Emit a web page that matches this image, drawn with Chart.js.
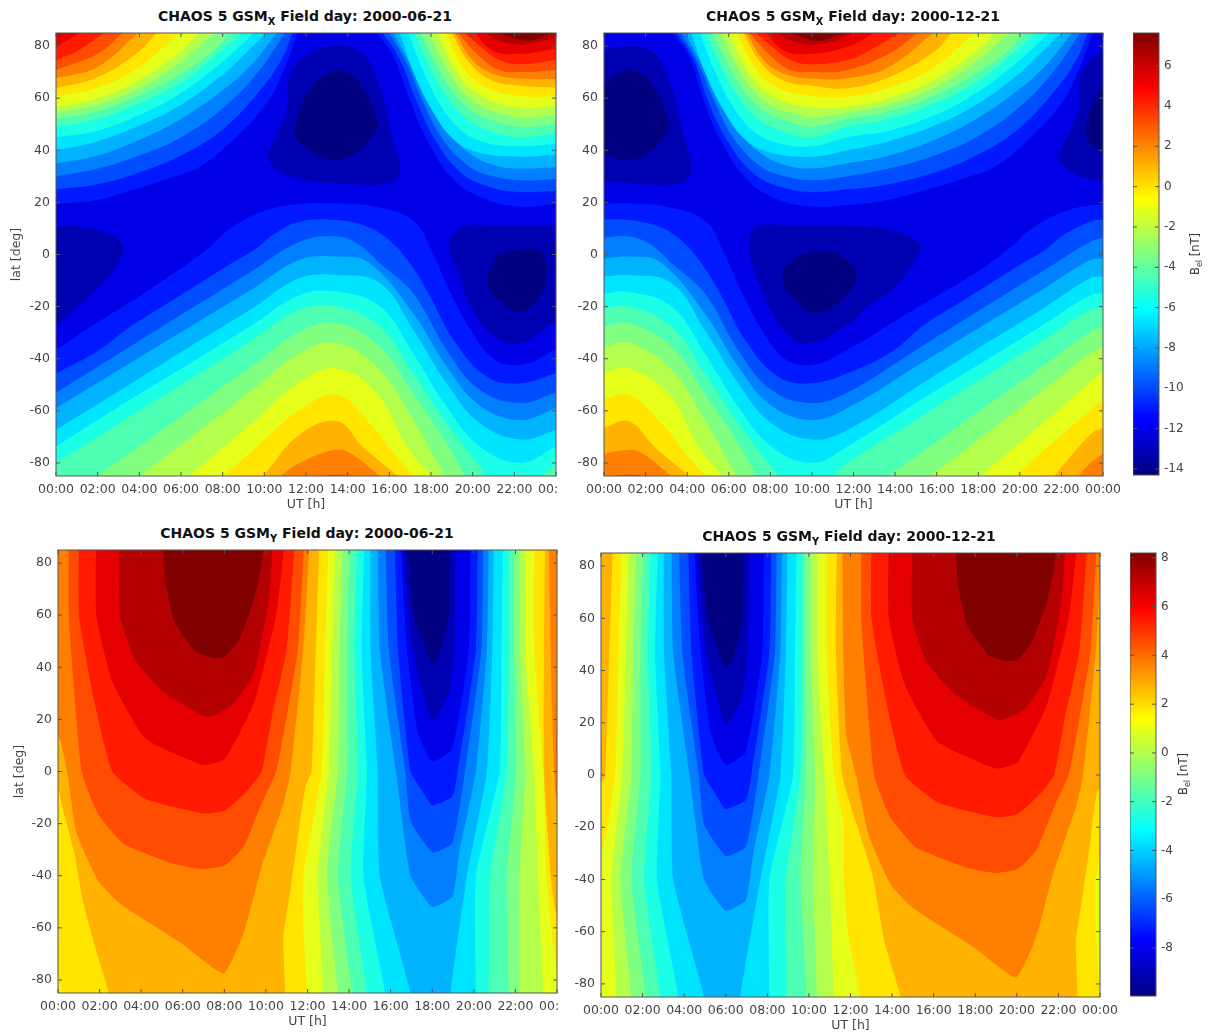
<!DOCTYPE html>
<html>
<head>
<meta charset="utf-8">
<script src="https://cdn.jsdelivr.net/npm/chart.js@4"></script>
<style>
body { margin: 0; background: #fff; width: 1210px; height: 1036px; overflow: hidden; position: relative; font-family: "DejaVu Sans"; }
.clip { position: absolute; overflow: hidden; }
.title { position: absolute; transform: translateX(-50%); font-size: 14px; font-weight: bold; color: #111; white-space: nowrap; }
.title sub, .unit sub { font-size: 70%; line-height: 0; }
.unit { position: absolute; transform: translate(-50%, -50%) rotate(-90deg); font-size: 11.5px; color: #333; white-space: nowrap; }
</style>
</head>
<body>
<script>
// tick labels
const utTicks = [0, 2, 4, 6, 8, 10, 12, 14, 16, 18, 20, 22, 24];
const utLabels = ['00:00', '02:00', '04:00', '06:00', '08:00', '10:00', '12:00', '14:00', '16:00', '18:00', '20:00', '22:00', '00:00'];
const latTicks = [-80, -60, -40, -20, 0, 20, 40, 60, 80];
const xBarTicks = [-14, -12, -10, -8, -6, -4, -2, 0, 2, 4, 6];
const yBarTicks = [-8, -6, -4, -2, 0, 2, 4, 6, 8];

// every entry is [contour band, [[UT, lat], ...]]
const xJunUpper = [
  [3, [[0,19.4],[2,21],[3.7,24.8],[5.3,29],[6.9,33.7],[8.5,44],[10.1,58],[11,72],[11.6,85]]],
  [3, [[15.4,85],[16.2,76],[17,59],[17.8,44],[19.1,28.6],[20.7,21],[22.3,18.4],[24,19.4]]],
  [4, [[0,25],[2,27],[4,31.5],[6,38],[8,48],[9.9,64],[10.9,76],[11.35,85]]],
  [4, [[15.7,85],[16.5,75],[17.3,59],[18.2,44],[19.5,31],[21,25.5],[22.3,24],[24,24.5]]],
  [5, [[0,30],[2,33],[4,38],[6,45],[8,56],[9.7,70],[11,85]]],
  [5, [[16,85],[16.8,74],[17.6,59],[18.5,45],[19.8,34],[21,30],[22.3,28.5],[24,29]]],
  [6, [[0,35],[2,38],[4,44],[6,52],[8,63],[9.4,73],[10.6,85]]],
  [6, [[16.2,85],[17,73],[17.8,60],[18.8,47],[20,38],[21.2,34],[22.3,33],[24,33.5]]],
  [7, [[0,40],[2,43.5],[4,49.5],[6,57.5],[8,69],[9,76.5],[10.1,85]]],
  [7, [[16.5,85],[17.15,70],[18,56],[19.1,44],[20.35,39],[22.3,37.5],[24,38.5]]],
  [8, [[0,45],[2,47.5],[4,53.5],[6,62],[8,74],[9.5,85]]],
  [8, [[16.9,85],[17.6,71],[18.4,58],[19.4,48],[20.6,43],[22.3,41.5],[24,42.5]]],
  [9, [[0,49],[2,52],[4,58],[6,66],[7.6,76],[8.9,85]]],
  [9, [[17.2,85],[18,71],[18.8,60],[19.8,51.5],[21,47],[22.3,45],[24,46.5]]],
  [10, [[0,52],[2,55],[4,61],[6,69.5],[7.5,78],[8.3,85]]],
  [10, [[17.5,85],[18.4,71],[19.2,61],[20.2,54],[21.2,51],[22.3,49],[24,50]]],
  [11, [[0,54.5],[2,57.5],[4,64],[6,74],[7.6,85]]],
  [11, [[17.9,85],[18.8,71],[19.6,62],[20.5,56.5],[21.5,54],[22.3,52.5],[24,53.5]]],
  [12, [[0,56.7],[2,60],[4,67],[6,78],[6.85,85]]],
  [12, [[18.3,85],[19.4,68],[20.7,59.5],[22.3,56.5],[24,57]]],
  [13, [[0,60.6],[2,64],[4,72],[5.9,85]]],
  [13, [[18.7,85],[19.7,70],[20.8,63.5],[22.3,60.8],[24,60.6]]],
  [14, [[0,63.8],[2,68],[4,78],[4.8,85]]],
  [14, [[19,85],[19.9,73],[21,66.5],[22.3,64.8],[24,64]]],
  [15, [[0,67.6],[2,72],[3.95,85]]],
  [15, [[19.15,85],[20.05,74],[21.1,69],[22.3,67.5],[24,67.3]]],
  [16, [[0,70.8],[2,77],[3.2,85]]],
  [16, [[19.3,85],[20.2,77],[21.2,71],[22.3,70],[24,70.8]]],
  [17, [[0,74.6],[1,78],[2.3,85]]],
  [17, [[19.6,85],[20.35,80],[21.3,74.5],[22.3,73],[24,74.6]]],
  [18, [[0,79.7],[1.15,85]]],
  [18, [[20.1,85],[21,78],[22.3,77],[24,79]]],
  [19, [[0,84],[0.3,85]]],
  [19, [[20.6,85],[21.3,82],[22.3,80.5],[23.4,82],[24,83]]],
  [20, [[21.2,85],[22,83],[22.6,82],[23.2,83],[23.7,85]]]
];
const xJunLower = [
  [3, [[0,-36.6],[2,-26],[4,-16],[5.5,-8],[7.2,1.7],[8.5,10.7],[10.1,17],[11.7,19.4],[13.5,19.6],[15.3,18.4],[17.15,13],[18.05,1],[18.9,-14],[19.9,-29],[21,-40],[22.3,-42.4],[24,-36.6]]],
  [4, [[0,-45.6],[2,-37],[3.7,-27],[5.5,-18],[6.9,-11],[8.2,-4.5],[9.5,1.7],[10.5,8],[11.7,12.6],[13.5,13.2],[15,10.5],[16,5.5],[17,-3.5],[17.95,-16],[19.1,-33],[20.7,-47],[22.3,-49.4],[24,-45.6]]],
  [5, [[0,-53],[3.7,-34.6],[6.9,-18.7],[9.47,-6],[11.7,4.9],[13.5,6.9],[14.5,4],[15.55,-3.4],[17.15,-15],[18.75,-36.6],[20.35,-52],[22.3,-57],[24,-53]]],
  [6, [[0,-59],[3.7,-41],[6.9,-25.4],[9.47,-13],[11.7,-2],[13.5,-0.8],[15,-3],[17.15,-22.6],[18.75,-43],[20.35,-58],[22.3,-63.5],[24,-59]]],
  [7, [[0,-67.3],[3.7,-49],[6.9,-33],[9.47,-20.4],[11.7,-9],[13.5,-7.9],[15.55,-11],[17.15,-29],[18.75,-49.4],[20.35,-64.8],[22.3,-71],[24,-67.3]]],
  [8, [[0,-73.7],[3.7,-55],[6.9,-39.5],[9.47,-26.8],[11.7,-15.5],[13.5,-14.3],[15.55,-20],[17.15,-38],[18.75,-58.4],[20.35,-73.7],[22.3,-80],[24,-73.7]]],
  [9, [[0,-80],[3.7,-61.4],[6.9,-45.5],[9.47,-32.5],[11.7,-21],[13.5,-20],[15.55,-27.7],[17.15,-45.6],[18.75,-64.8],[20.35,-81.4],[20.7,-85]]],
  [9, [[23.3,-85],[24,-80]]],
  [10, [[1.95,-85],[3.7,-75.3],[6.9,-57],[9.47,-42.4],[11.7,-29.6],[13.5,-26.4],[15.55,-35.4],[17.15,-53.3],[18.75,-72.4],[19.65,-85]]],
  [11, [[4,-85],[6.9,-67.5],[9.47,-51.7],[11.7,-38],[13.5,-34],[15.55,-44.3],[17.15,-63.5],[18.65,-85]]],
  [12, [[6.4,-85],[9.47,-64.3],[11.7,-48.8],[13.5,-43.7],[15.4,-53.3],[16.85,-73.7],[18,-85]]],
  [13, [[8.03,-85],[9.47,-75],[11.7,-59.7],[13.5,-53.9],[15.2,-66],[16.2,-76.3],[17.2,-85]]],
  [14, [[9.95,-85],[11.7,-69],[13.5,-64],[14.75,-74],[16.4,-85]]],
  [15, [[10.75,-85],[11.7,-80],[13.2,-75.2],[14,-75.7],[15.55,-85]]],
  [16, [[12.8,-85],[13.5,-84.4],[14.2,-85]]]
];
const xJunPatches = [
  [1, [[10.1,37.5],[11.07,55.5],[11.2,68],[12,76.5],[13.5,80],[14.75,77],[15.6,63],[16.1,46.5],[16.5,31.8],[16,27.3],[13.6,27.3],[11.7,29],[10.6,32.4],[10.1,37.5]]],
  [1, [[-2,11],[0,11],[2,9.5],[3.2,4],[3,-3],[2,-13],[1,-20],[0,-27],[-2,-33],[-2,11]]],
  [1, [[26,11],[24,11],[21.5,11],[19.5,10.5],[18.9,3.5],[19.4,-8.5],[19.9,-20],[21,-31.5],[22.3,-34],[24,-26],[26,-20],[26,11]]],
  [0, [[13.5,71.4],[14.3,68.2],[15.2,56.7],[15.3,46.5],[13.6,36.3],[11.7,42.7],[11.5,50.3],[12.4,65.7],[13.5,71.4]]],
  [0, [[21.2,0],[22.3,1.7],[23.3,1],[23.55,-8.5],[23.2,-16.2],[22.3,-22],[21.3,-17.5],[20.7,-9.8],[21.2,0]]]
];

const xDecUpper = [
  [3, [[3.3,85],[4.1,76],[4.8,59],[5.6,44],[6.9,28.6],[8.4,21],[10,18.4],[11.7,19],[13.7,21],[15.5,24.8],[17.2,29],[18.8,33.7],[20.4,44],[22,58],[22.9,72],[23.5,85]]],
  [4, [[3.5,85],[4.3,75],[5,59],[5.9,44],[7.2,31],[8.7,25.5],[10,24],[11.7,25],[13.7,27],[15.9,31.5],[17.9,38],[19.9,48],[21.8,64],[22.8,76],[23.25,85]]],
  [5, [[3.7,85],[4.5,74],[5.3,59],[6.2,45],[7.5,34],[8.7,30],[10,28.5],[11.7,30],[13.7,33],[15.9,38],[17.9,45],[19.9,56],[21.6,70],[22.9,85]]],
  [6, [[3.9,85],[4.7,73],[5.5,60],[6.5,47],[7.7,38],[8.9,34],[10,33],[11.7,35],[13.7,38],[15.9,44],[17.9,52],[19.9,63],[21.3,73],[22.5,85]]],
  [7, [[4.2,85],[4.85,70],[5.7,56],[6.8,44],[8.05,39],[10,37.5],[11.7,40],[13.7,43.5],[15.9,49.5],[17.9,57.5],[19.9,69],[20.9,76.5],[22,85]]],
  [8, [[4.6,85],[5.3,71],[6.1,58],[7.1,48],[8.3,43],[10,41.5],[11.7,45],[13.7,47.5],[15.9,53.5],[17.9,62],[19.9,74],[21.4,85]]],
  [9, [[4.9,85],[5.7,71],[6.5,60],[7.5,51.5],[8.7,47],[10,45],[11.7,49],[13.7,52],[15.9,58],[17.9,66],[19.5,76],[20.8,85]]],
  [10, [[5.2,85],[6.1,71],[6.9,61],[7.9,54],[8.9,51],[10,49],[11.7,52],[13.7,55],[15.9,61],[17.9,69.5],[19.4,78],[20.2,85]]],
  [11, [[5.6,85],[6.5,71],[7.3,62],[8.2,56.5],[9.2,54],[10,52.5],[11.7,54.5],[13.7,57.5],[15.9,64],[17.9,74],[19.5,85]]],
  [12, [[6,85],[7.1,68],[8.4,59.5],[10,56.5],[11.7,56.7],[13.7,60],[15.9,67],[17.9,78],[18.75,85]]],
  [13, [[6.4,85],[7.4,70],[8.5,63.5],[10,60.8],[11.7,60.6],[13.7,64],[15.9,72],[17.8,85]]],
  [14, [[6.7,85],[7.6,73],[8.7,66.5],[10,64.8],[11.7,63.8],[13.7,68],[15.9,78],[16.7,85]]],
  [15, [[6.85,85],[7.75,74],[8.8,69],[10,67.5],[11.7,67.6],[13.7,72],[15.85,85]]],
  [16, [[7,85],[7.9,77],[8.9,71],[10,70],[11.7,70.8],[13.7,77],[15.1,85]]],
  [17, [[7.3,85],[8.05,80],[9,74.5],[10,73],[11.7,74.6],[12.7,78],[14.2,85]]],
  [18, [[7.8,85],[8.7,78],[10,77],[11.7,79.7],[13,85]]],
  [19, [[8.3,85],[9,82],[10,80.5],[11.1,82],[11.7,84],[12,85]]],
  [20, [[8.9,85],[9.7,83],[10.3,82],[11,83.5],[11.6,85]]]
];
const xDecLower = [
  [3, [[0,19.5],[1.2,19.6],[2.9,18.5],[4.85,13],[5.75,1],[6.6,-14],[7.6,-29],[8.7,-40],[10,-42.4],[11.7,-36.6],[13.9,-26],[16,-16],[17.7,-8],[19.4,1.7],[20.7,10.7],[22.3,17],[23.9,19.4],[24,19.5]]],
  [4, [[0,13.5],[1.2,13.2],[2.7,10.5],[3.7,5.5],[4.7,-3.5],[5.65,-16],[6.8,-33],[8.4,-47],[10,-49.4],[11.7,-45.6],[13.9,-37],[15.4,-27],[17.2,-18],[18.6,-11],[19.9,-4.5],[21.2,1.7],[22.2,8],[23.4,12.6],[24,13.5]]],
  [5, [[0,6.5],[1.2,6.9],[2.2,4],[3.25,-3.4],[4.85,-15],[6.45,-36.6],[8.05,-52],[10,-57],[11.7,-53],[15.4,-34.6],[18.6,-18.7],[21.17,-6],[23.4,4.9],[24,6.5]]],
  [6, [[0,-1.5],[1.2,-0.8],[2.7,-3],[4.85,-22.6],[6.45,-43],[8.05,-58],[10,-63.5],[11.7,-59],[15.4,-41],[18.6,-25.4],[21.17,-13],[23.4,-2],[24,-1.5]]],
  [7, [[0,-8.5],[1.2,-7.9],[3.25,-11],[4.85,-29],[6.45,-49.4],[8.05,-64.8],[10,-71],[11.7,-67.3],[15.4,-49],[18.6,-33],[21.17,-20.4],[23.4,-9],[24,-8.5]]],
  [8, [[0,-15],[1.2,-14.3],[3.25,-20],[4.85,-38],[6.45,-58.4],[8.05,-73.7],[10,-80],[11.7,-73.7],[15.4,-55],[18.6,-39.5],[21.17,-26.8],[23.4,-15.5],[24,-15]]],
  [9, [[0,-20.7],[1.2,-20],[3.25,-27.7],[4.85,-45.6],[6.45,-64.8],[8.05,-81.4],[8.4,-85]]],
  [9, [[11,-85],[11.7,-80],[15.4,-61.4],[18.6,-45.5],[21.17,-32.5],[23.4,-21],[24,-20.7]]],
  [10, [[0,-27.5],[1.2,-26.4],[3.25,-35.4],[4.85,-53.3],[6.45,-72.4],[7.35,-85]]],
  [10, [[13.65,-85],[15.4,-75.3],[18.6,-57],[21.17,-42.4],[23.4,-29.6],[24,-27.5]]],
  [11, [[0,-35.5],[1.2,-34],[3.25,-44.3],[4.85,-63.5],[6.35,-85]]],
  [11, [[15.7,-85],[18.6,-67.5],[21.17,-51.7],[23.4,-38],[24,-35.5]]],
  [12, [[0,-45],[1.2,-43.7],[3.1,-53.3],[4.55,-73.7],[5.7,-85]]],
  [12, [[18.13,-85],[21.17,-64.3],[23.4,-48.8],[24,-45]]],
  [13, [[0,-55.5],[1.2,-53.9],[2.9,-66],[3.9,-76.3],[4.9,-85]]],
  [13, [[19.73,-85],[21.17,-75],[23.4,-59.7],[24,-55.5]]],
  [14, [[0,-66.5],[1.2,-64],[2.45,-74],[4.1,-85]]],
  [14, [[21.65,-85],[23.4,-69],[24,-66.5]]],
  [15, [[0,-76.5],[0.9,-75.2],[1.7,-75.7],[3.25,-85]]],
  [15, [[22.8,-85],[23.4,-80],[24,-76.5]]],
  [16, [[0.5,-85],[1.2,-84.4],[1.9,-85]]]
];
const xDecPatches = [
  [1, [[-2.2,37.5],[-1.2,55.5],[-1.1,68],[-0.3,76.5],[1.2,80],[2.45,77],[3.3,63],[3.8,46.5],[4.2,31.8],[3.7,27.3],[1.3,27.3],[-0.6,29],[-1.7,32.4],[-2.2,37.5]]],
  [1, [[21.8,37.5],[22.8,55.5],[22.9,68],[23.7,76.5],[25.2,80],[26.45,77],[27,60],[27,30],[25.3,27.3],[23.4,29],[22.3,32.4],[21.8,37.5]]],
  [1, [[11.7,11],[13.7,9.5],[15.2,4],[14.9,-3],[13.9,-13],[12.7,-20],[11.7,-27],[10,-34],[8.9,-31.5],[7.65,-15],[7,1.7],[7.3,10.5],[9,11],[11.7,11]]],
  [0, [[1.2,71.4],[2,68],[2.9,56.7],[3,46.5],[1.3,36.3],[-0.6,42.7],[-0.8,50.3],[0.1,65.7],[1.2,71.4]]],
  [0, [[25.2,71.4],[26,68],[27,50],[25.3,36.3],[23.4,42.7],[23.2,50.3],[24.1,65.7],[25.2,71.4]]],
  [0, [[10.2,1],[11.2,0.4],[12.15,-7.2],[11.7,-15],[10.2,-22.6],[8.9,-15],[8.6,-7.2],[9.3,-1],[10.2,1]]]
];

const yJunCold = [
  [8, [[14.42,95],[14.25,47],[14.42,0],[14.07,-40],[14.86,-85],[14.86,-95],[20.72,-95],[20.72,-85],[20.8,-40],[21.59,0],[21.68,47],[21.68,95]]],
  [7, [[14.77,95],[14.6,47],[14.86,0],[14.69,-40],[15.73,-85],[15.73,-95],[20.1,-95],[20.1,-85],[20.1,-40],[21.24,0],[21.33,47],[21.42,95]]],
  [6, [[15.03,95],[15.03,47],[15.38,0],[15.47,-40],[16.96,-85],[16.96,-95],[18.88,-95],[18.88,-85],[19.67,-40],[20.63,0],[20.89,47],[20.98,95]]],
  [5, [[15.38,95],[15.47,47],[16.26,0],[16.96,-40],[18,-52],[18.97,-48],[19.32,-30],[20.1,0],[20.63,47],[20.72,95]]],
  [4, [[15.73,95],[15.91,47],[16.7,0],[16.96,-19],[18,-31],[18.97,-27.5],[19.58,0],[20.37,47],[20.45,95]]],
  [3, [[16.17,95],[16.35,47],[16.96,0],[17.48,-7],[18,-13],[18.97,-9.6],[19.23,0],[20.1,47],[20.19,95]]],
  [2, [[16.43,95],[16.78,47],[17.31,15],[18,3.8],[18.97,8.9],[19.76,47],[19.84,95]]],
  [1, [[16.52,95],[17.05,47],[18,19],[18.79,30],[19.06,47],[19.14,95]]],
  [0, [[16.7,95],[17.13,60],[18,40.8],[18.44,47],[18.79,60],[18.88,95]]]
];
const yJunHot = [
  [10, [[14.07,95],[13.9,47],[13.9,0],[13.46,-40],[14.16,-85],[14.2,-95],[-1,-95],[-1,95]]],
  [10, [[21.94,95],[21.94,47],[22.03,0],[21.59,-40],[21.68,-85],[21.68,-95],[25,-95],[25,95]]],
  [11, [[13.72,95],[13.55,47],[13.46,0],[12.94,-40],[13.46,-85],[13.5,-95],[-1,-95],[-1,95]]],
  [11, [[22.2,95],[22.2,47],[22.47,0],[22.2,-40],[22.2,-85],[22.2,-95],[25,-95],[25,95]]],
  [12, [[13.37,95],[13.2,47],[13.02,0],[12.5,-40],[12.76,-85],[12.76,-95],[-1,-95],[-1,95]]],
  [12, [[22.47,95],[22.47,47],[22.9,0],[23.08,-40],[23.34,-85],[23.34,-95],[25,-95],[25,95]]],
  [13, [[-1,95],[-1,-79],[0,-79],[0.14,-85],[0.2,-95],[11.9,-95],[11.98,-85],[11.8,-60],[11.8,-40],[12.68,0],[12.85,47],[13.02,95]]],
  [13, [[22.9,95],[22.9,47],[23.34,0],[23.5,-40],[24,-75],[25,-75],[25,95]]],
  [14, [[-1,95],[-1,-7],[0,-7],[0.17,-12.4],[0.79,-31.6],[1.22,-50.7],[1.92,-71],[2.45,-85],[2.6,-95],[10.9,-95],[10.93,-85],[10.84,-63.5],[11.2,-44.4],[11.54,-25],[11.89,-6],[12.2,0],[12.4,47],[12.6,95]]],
  [14, [[23.43,95],[23.37,47],[23.37,0],[23.7,-40],[24,-55],[25,-55],[25,95]]],
  [15, [[-1,95],[-1,14],[0,14],[0.44,0],[0.87,-23],[1.92,-41.8],[2.97,-50.7],[5.94,-66],[7.96,-77.5],[8.92,-62.2],[9.79,-36.7],[10.84,-12.4],[11.19,0],[11.8,47],[12.15,95]]],
  [15, [[23.6,95],[23.69,47],[23.86,0],[24,-10],[25,-10],[25,95]]],
  [16, [[0.52,95],[0.52,60],[1.14,0],[1.92,-16.2],[3.15,-27.7],[5.6,-35.5],[7,-37.5],[8.04,-36],[8.92,-29],[9.79,-12.4],[10.49,0],[11,21],[11.54,47],[11.89,95]]],
  [17, [[1.01,95],[1.01,60],[1.75,27],[2.62,0],[4.2,-10.5],[7,-16.2],[8.04,-15],[9.09,-7.5],[9.79,0],[10.3,21.6],[11,47],[11.45,95]]],
  [18, [[1.84,95],[1.84,60],[2.62,34.4],[4.2,12.7],[7,2.5],[8.04,5],[9.44,26.7],[10.49,60],[11,95]]],
  [19, [[2.97,95],[2.97,60],[3.67,43.3],[5.07,30.6],[7.17,21],[8.39,25.5],[9.44,38.2],[10.14,66.3],[10.4,95]]],
  [20, [[4.98,95],[5.1,80],[5.16,72.7],[5.6,57.4],[6.64,45.9],[7.5,43.6],[8.04,44],[8.74,51],[9.44,66.3],[9.8,80],[9.93,95]]]
];

const yDecCold = [
  [8, [[2.42,95],[2.25,47],[2.42,0],[2.07,-40],[2.86,-85],[2.86,-95],[8.9,-95],[8.93,-85],[8.9,-40],[9.59,0],[9.68,47],[9.68,95]]],
  [7, [[2.77,95],[2.6,47],[2.86,0],[2.69,-40],[3.73,-85],[3.73,-95],[8.1,-95],[8.1,-85],[8.1,-40],[9.24,0],[9.33,47],[9.42,95]]],
  [6, [[3.03,95],[3.03,47],[3.38,0],[3.47,-40],[4.96,-85],[4.96,-95],[6.7,-95],[6.7,-85],[7.67,-40],[8.63,0],[8.89,47],[8.98,95]]],
  [5, [[3.38,95],[3.47,47],[4.26,0],[4.96,-40],[6,-52],[6.97,-48],[7.32,-30],[8.1,0],[8.63,47],[8.72,95]]],
  [4, [[3.73,95],[3.91,47],[4.7,0],[4.96,-19],[6,-31],[6.97,-27.5],[7.58,0],[8.37,47],[8.45,95]]],
  [3, [[4.17,95],[4.35,47],[4.96,0],[5.48,-7],[6,-13],[6.97,-9.6],[7.23,0],[8.1,47],[8.19,95]]],
  [2, [[4.43,95],[4.78,47],[5.31,15],[6,3.8],[6.97,8.9],[7.76,47],[7.84,95]]],
  [1, [[4.52,95],[5.05,47],[6,19],[6.79,30],[7.06,47],[7.14,95]]],
  [0, [[4.7,95],[5.13,60],[6,40.8],[6.44,47],[6.79,60],[6.88,95]]]
];
const yDecHot = [
  [10, [[9.8,95],[9.8,47],[9.85,0],[9.6,-40],[9.9,-85],[9.9,-95],[25,-95],[25,95]]],
  [10, [[2.07,95],[1.9,47],[1.9,0],[1.46,-40],[2.16,-85],[2.16,-95],[-1,-95],[-1,95]]],
  [11, [[10.1,95],[10.1,47],[10.3,0],[10.2,-40],[10.4,-85],[10.4,-95],[25,-95],[25,95]]],
  [11, [[1.72,95],[1.55,47],[1.46,0],[0.94,-40],[1.46,-85],[1.46,-95],[-1,-95],[-1,95]]],
  [12, [[10.4,95],[10.4,47],[10.75,0],[11,-40],[11.2,-85],[11.2,-95],[25,-95],[25,95]]],
  [12, [[1.37,95],[1.2,47],[1.02,0],[0.5,-40],[0.76,-85],[0.76,-95],[-1,-95],[-1,95]]],
  [13, [[10.85,95],[10.85,47],[11.2,0],[11.67,-19],[11.67,-38],[11.87,-60],[12.46,-85],[12.5,-95],[23.9,-95],[23.98,-85],[23.8,-60],[23.8,-40],[25,13],[25,95]]],
  [13, [[1.02,95],[0.85,47],[0.68,0],[0,-31],[-1,-31],[-1,95]]],
  [14, [[11.35,95],[11.3,47],[11.6,0],[12.3,-19],[13.05,-38],[13.64,-64],[14.42,-85],[14.6,-95],[22.9,-95],[22.93,-85],[22.84,-63.5],[23.2,-44.4],[23.54,-25],[23.89,-6],[25,-3],[25,95]]],
  [14, [[0.6,95],[0.4,47],[0.2,0],[0,-3],[-1,-3],[-1,95]]],
  [15, [[11.6,95],[11.65,47],[11.8,15],[12.26,0],[12.87,-23],[13.92,-41.8],[14.97,-50.7],[17.94,-66],[19.96,-77.5],[20.92,-62.2],[21.79,-36.7],[22.84,-12.4],[23.19,0],[23.8,47],[24.15,95]]],
  [16, [[12.52,95],[12.52,60],[13.14,0],[13.92,-16.2],[15.15,-27.7],[17.6,-35.5],[19,-37.5],[20.04,-36],[20.92,-29],[21.79,-12.4],[22.49,0],[23,21],[23.54,47],[23.89,95]]],
  [17, [[13.01,95],[13.01,60],[13.75,27],[14.62,0],[16.2,-10.5],[19,-16.2],[20.04,-15],[21.09,-7.5],[21.79,0],[22.3,21.6],[23,47],[23.45,95]]],
  [18, [[13.84,95],[13.84,60],[14.62,34.4],[16.2,12.7],[19,2.5],[20.04,5],[21.44,26.7],[22.49,60],[23,95]]],
  [19, [[14.97,95],[14.97,60],[15.67,43.3],[17.07,30.6],[19.17,21],[20.39,25.5],[21.44,38.2],[22.14,66.3],[22.4,95]]],
  [20, [[16.98,95],[17.1,80],[17.16,72.7],[17.6,57.4],[18.64,45.9],[19.5,43.6],[20.04,44],[20.74,51],[21.44,66.3],[21.8,80],[21.93,95]]]
];

const nBands = 21;

function clamp01(v) { return Math.max(0, Math.min(1, v)); }

function jet(t)
{
    const r = clamp01(Math.min(4 * t - 1.5, -4 * t + 4.5));
    const g = clamp01(Math.min(4 * t - 0.5, -4 * t + 3.5));
    const b = clamp01(Math.min(4 * t + 0.5, -4 * t + 2.5));
    return `rgb(${Math.round(r * 255)},${Math.round(g * 255)},${Math.round(b * 255)})`;
}

// box round the plot and short ticks pointing inwards, like the original
const boxPlugin = {
    id: 'box',
    afterDatasetsDraw(chart)
    {
        const { ctx, chartArea: a, scales } = chart;
        ctx.save();
        ctx.strokeStyle = '#555';
        ctx.lineWidth = 1;
        ctx.strokeRect(a.left, a.top, a.right - a.left, a.bottom - a.top);
        ctx.beginPath();
        if (scales.x.options.display)
        {
            utTicks.forEach(v =>
            {
                const px = scales.x.getPixelForValue(v);
                ctx.moveTo(px, a.top); ctx.lineTo(px, a.top + 4);
                ctx.moveTo(px, a.bottom); ctx.lineTo(px, a.bottom - 4);
            });
        }
        scales.y.ticks.forEach(t =>
        {
            const py = scales.y.getPixelForValue(t.value);
            ctx.moveTo(a.left, py); ctx.lineTo(a.left + 4, py);
            ctx.moveTo(a.right, py); ctx.lineTo(a.right - 4, py);
        });
        ctx.stroke();
        ctx.restore();
    }
};

function bandDataset(band, points, fill, tension)
{
    return {
        data: points,
        fill: fill,
        tension: tension,
        capBezierPoints: false,
        backgroundColor: jet(band / (nBands - 1)),
        borderWidth: 0,
        pointRadius: 0
    };
}

function makeContainer(left, top, width, height)
{
    const div = document.createElement('div');
    div.className = 'clip';
    div.style.cssText = `left:${left}px;top:${top}px;width:${width}px;height:${height}px`;
    document.body.appendChild(div);
    return div;
}

function addPanel(p, datasets)
{
    const marginL = p.x0 - p.canvasLeft, marginT = 6, marginR = 30, axisH = 36;
    const width = p.x1 - p.x0, height = p.y1 - p.y0;
    const canvas = document.createElement('canvas');
    canvas.width = marginL + width + marginR;
    canvas.height = marginT + height + axisH;
    canvas.style.cssText = 'position:absolute;left:0;top:0';
    const box = makeContainer(p.canvasLeft, p.y0 - marginT, p.clipW || canvas.width, p.clipH || canvas.height);
    box.appendChild(canvas);
    datasets.forEach((d, i) => { d.order = datasets.length - i; });
    new Chart(canvas.getContext('2d'), {
        type: 'line',
        data: { datasets: datasets },
        plugins: [boxPlugin],
        options: {
            responsive: false,
            animation: false,
            events: [],
            layout: { padding: { top: marginT, right: marginR, left: 0, bottom: 0 } },
            plugins: { legend: { display: false }, tooltip: { enabled: false } },
            scales: {
                x: {
                    type: 'linear', min: 0, max: 24,
                    afterFit: s => { s.height = axisH; s.paddingLeft = 0; s.paddingRight = 0; },
                    afterBuildTicks: s => { s.ticks = utTicks.map(v => ({ value: v })); },
                    grid: { display: false, drawTicks: false },
                    border: { display: false },
                    title: { display: true, text: 'UT [h]', color: '#444', font: { family: 'DejaVu Sans', size: 12.5 }, padding: 0 },
                    ticks: {
                        autoSkip: false, maxRotation: 0, padding: 6, color: '#444',
                        font: { family: 'DejaVu Sans', size: 12.5 },
                        callback: (v, i) => utLabels[i]
                    }
                },
                y: {
                    type: 'linear', min: -85, max: 85,
                    afterFit: s => { s.width = marginL; s.paddingTop = 0; s.paddingBottom = 0; },
                    afterBuildTicks: s => { s.ticks = latTicks.map(v => ({ value: v })); },
                    grid: { display: false, drawTicks: false },
                    border: { display: false },
                    title: { display: !!p.latTitle, text: 'lat [deg]', color: '#444', font: { family: 'DejaVu Sans', size: 12.5 }, padding: { top: p.latTitle || 0 } },
                    ticks: { padding: 6, color: '#444', font: { family: 'DejaVu Sans', size: 12.5 } }
                }
            }
        }
    });
}

function addColorbar(c)
{
    const marginT = 6, labelW = 40, barW = c.x1 - c.x0;
    const canvas = document.createElement('canvas');
    canvas.width = barW + labelW;
    canvas.height = c.y1 - c.y0 + 2 * marginT;
    canvas.style.cssText = 'position:absolute;left:0;top:0';
    makeContainer(c.x0, c.y0 - marginT, canvas.width, canvas.height).appendChild(canvas);
    new Chart(canvas.getContext('2d'), {
        type: 'bar',
        data: {
            labels: ['B'],
            datasets: [{
                data: [[c.min, c.max]],
                barPercentage: 1,
                categoryPercentage: 1,
                backgroundColor: ctx =>
                {
                    const area = ctx.chart.chartArea;
                    if (!area) return '#00f';
                    const grad = ctx.chart.ctx.createLinearGradient(0, area.bottom, 0, area.top);
                    for (let i = 0; i <= 40; i++) grad.addColorStop(i / 40, jet(i / 40));
                    return grad;
                }
            }]
        },
        plugins: [boxPlugin],
        options: {
            responsive: false,
            animation: false,
            events: [],
            layout: { padding: { top: marginT, bottom: marginT } },
            plugins: { legend: { display: false }, tooltip: { enabled: false } },
            scales: {
                x: { display: false },
                y: {
                    position: 'right', min: c.min, max: c.max,
                    afterFit: s => { s.width = labelW; s.paddingTop = 0; s.paddingBottom = 0; },
                    afterBuildTicks: s => { s.ticks = c.ticks.map(v => ({ value: v })); },
                    grid: { display: false, drawTicks: false },
                    border: { display: false },
                    ticks: { padding: 5, color: '#444', font: { family: 'DejaVu Sans', size: 12 } }
                }
            }
        }
    });
}

function addTitle(html, x, y)
{
    const div = document.createElement('div');
    div.className = 'title';
    div.style.left = x + 'px';
    div.style.top = y + 'px';
    div.innerHTML = html;
    document.body.appendChild(div);
}

function addUnit(x, y)
{
    const div = document.createElement('div');
    div.className = 'unit';
    div.style.left = x + 'px';
    div.style.top = y + 'px';
    div.innerHTML = 'B<sub>el</sub> [nT]';
    document.body.appendChild(div);
}

// top row: central blue painted first, the other bands laid over it
function xDatasets(upper, lower, patches)
{
    const base = [[-2, -100], [26, -100], [26, 100], [-2, 100]];
    return [bandDataset(2, base, 'shape', 0)]
        .concat(patches.map(b => bandDataset(b[0], b[1], 'shape', 0.4)))
        .concat(upper.map(b => bandDataset(b[0], b[1], 'end', 0.4)))
        .concat(lower.map(b => bandDataset(b[0], b[1], 'start', 0.4)));
}

// bottom row: green painted first, cold and hot sides laid over it
function yDatasets(cold, hot)
{
    const base = [[-2, -100], [26, -100], [26, 100], [-2, 100]];
    return [bandDataset(9, base, 'shape', 0)]
        .concat(cold.concat(hot).map(b => bandDataset(b[0], b[1], 'shape', 0.15)));
}

addPanel({ canvasLeft: 0, x0: 56, x1: 556, y0: 33, y1: 476, latTitle: 9.5, clipW: 557, clipH: 483 }, xDatasets(xJunUpper, xJunLower, xJunPatches));
addPanel({ canvasLeft: 552, x0: 604, x1: 1103, y0: 33, y1: 476 }, xDatasets(xDecUpper, xDecLower, xDecPatches));
addPanel({ canvasLeft: 0, x0: 58, x1: 557, y0: 550, y1: 993, latTitle: 12, clipW: 558 }, yDatasets(yJunCold, yJunHot));
addPanel({ canvasLeft: 549, x0: 601, x1: 1100, y0: 553, y1: 997 }, yDatasets(yDecCold, yDecHot));

addColorbar({ x0: 1133, x1: 1159, y0: 33, y1: 475, min: -14.3, max: 7.62, ticks: xBarTicks });
addColorbar({ x0: 1130, x1: 1156, y0: 553, y1: 996, min: -9.97, max: 8.2, ticks: yBarTicks });

addTitle('CHAOS 5 GSM<sub>X</sub> Field day: 2000-06-21', 305, 8);
addTitle('CHAOS 5 GSM<sub>X</sub> Field day: 2000-12-21', 853, 8);
addTitle('CHAOS 5 GSM<sub>Y</sub> Field day: 2000-06-21', 307, 525);
addTitle('CHAOS 5 GSM<sub>Y</sub> Field day: 2000-12-21', 849, 528);
addUnit(1195, 254);
addUnit(1183, 774);
</script>
</body>
</html>
